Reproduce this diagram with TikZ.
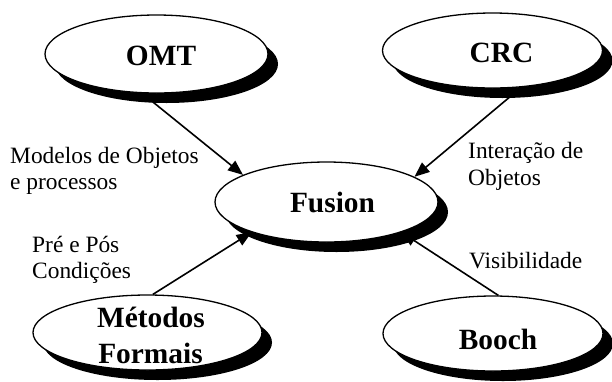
\documentclass[tikz,border=0pt]{standalone}
\usepackage{fontspec}
\setmainfont{Liberation Serif}
\usetikzlibrary{shapes.geometric,arrows.meta,shadows}
\begin{document}
\begin{tikzpicture}[x=1bp,y=-1bp,
  bubble/.style={ellipse,draw=black,line width=1.3bp,fill=white,inner sep=0pt,
    drop shadow={shadow xshift=10bp,shadow yshift=-10bp,fill=black,opacity=1}},
  bigtext/.style={anchor=base,inner sep=0pt,font=\fontsize{29.5}{35}\selectfont\bfseries},
  smalltext/.style={anchor=base west,inner sep=0pt,font=\fontsize{23.5}{26}\selectfont},
  link/.style={line width=1.6bp,-{Triangle[length=15bp,width=12bp]}}]
\useasboundingbox (0,0) rectangle (612,381);
% ellipses
\node[bubble,minimum width=223bp,minimum height=78bp] (omt) at (156.5,54) {};
\node[bubble,minimum width=220bp,minimum height=75bp] (crc) at (492.5,50.5) {};
\node[bubble,minimum width=223bp,minimum height=80bp] (fusion) at (326.5,202) {};
\node[bubble,minimum width=229bp,minimum height=75bp] (met) at (147.5,332.5) {};
\node[bubble,minimum width=220bp,minimum height=75bp] (booch) at (493,333.5) {};
% names
\node[bigtext] (omtt) at (161,65) {OMT};
\node[bigtext] (crct) at (501.5,62) {CRC};
\node[bigtext] (fust) at (332.5,212) {Fusion};
\node[bigtext] (boocht) at (498,349) {Booch};
\node[bigtext] (mett1) at (151,327) {Métodos};
\node[bigtext] (mett2) at (150.5,363) {Formais};
% connectors
\draw[link] (omt.-110) -- (fusion.162);
\draw[link] (crc.-52) -- (fusion.16);
\draw[link] (met.82) -- (fusion.-158);
\draw[link] (booch.82) -- (fusion.-22);
% labels
\node[smalltext] (l1a) at (10,163) {Modelos de Objetos};
\node[smalltext] (l1b) at (10,189) {e processos};
\node[smalltext] (l2a) at (468,158) {Interação de};
\node[smalltext] (l2b) at (468,185) {Objetos};
\node[smalltext] (l3a) at (32,252) {Pré e Pós};
\node[smalltext] (l3b) at (32,278) {Condições};
\node[smalltext] (l4) at (469,268) {Visibilidade};
\end{tikzpicture}
\end{document}
